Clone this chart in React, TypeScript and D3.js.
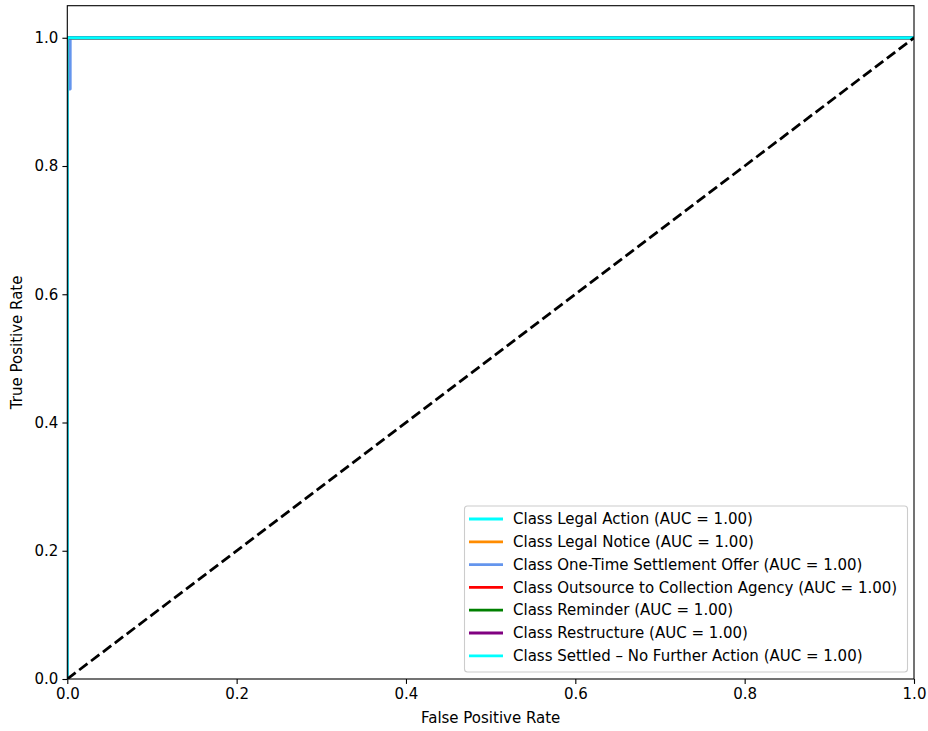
import React, { useEffect, useRef } from 'react';
import * as d3 from 'd3';

// classes in legend order
const classes = [
  'Legal Action',
  'Legal Notice',
  'One-Time Settlement Offer',
  'Outsource to Collection Agency',
  'Reminder',
  'Restructure',
  'Settled – No Further Action',
];
const colors = ['aqua', 'darkorange', 'cornflowerblue', 'red', 'green', 'purple', 'cyan'];
const aucs = [1.0, 1.0, 1.0, 1.0, 1.0, 1.0, 1.0];

// ROC points per class (fpr, tpr)
const fprs = [
  [0, 0, 1],
  [0, 0, 1],
  [0, 0, 0.0035, 0.0035, 1],
  [0, 0, 1],
  [0, 0, 1],
  [0, 0, 1],
  [0, 0, 1],
];
const tprs = [
  [0, 1, 1],
  [0, 1, 1],
  [0, 0.92, 0.92, 1, 1],
  [0, 1, 1],
  [0, 1, 1],
  [0, 1, 1],
  [0, 1, 1],
];

const xTicks = [0, 0.2, 0.4, 0.6, 0.8, 1.0];
const yTicks = [0, 0.2, 0.4, 0.6, 0.8, 1.0];

const App = () => {
  const svgRef = useRef<SVGSVGElement>(null);

  useEffect(() => {
    const width = 928;
    const height = 731;
    const margin = { left: 67.3, right: 14, top: 5.7, bottom: 52 };
    const font = 'DejaVu Sans, sans-serif';
    const fs = 15;

    const svg = d3.select(svgRef.current)
      .attr('width', width)
      .attr('height', height);
    svg.selectAll('*').remove();

    const x = d3.scaleLinear().domain([0, 1]).range([margin.left, width - margin.right]);
    const y = d3.scaleLinear().domain([0, 1.05]).range([height - margin.bottom, margin.top]);

    svg.append('rect')
      .attr('width', width)
      .attr('height', height)
      .attr('fill', 'white');

    svg.append('clipPath').attr('id', 'plot-clip')
      .append('rect')
      .attr('x', x(0))
      .attr('y', y(1.05))
      .attr('width', x(1) - x(0))
      .attr('height', y(0) - y(1.05));

    const plot = svg.append('g').attr('clip-path', 'url(#plot-clip)');

    const line = d3.line<[number, number]>()
      .x(d => x(d[0]))
      .y(d => y(d[1]));

    classes.forEach((c, i) => {
      const pts = fprs[i].map((f, j) => [f, tprs[i][j]] as [number, number]);
      plot.append('path')
        .attr('d', line(pts))
        .attr('fill', 'none')
        .attr('stroke', colors[i])
        .attr('stroke-width', 2.8)
        .attr('stroke-linejoin', 'round')
        .attr('stroke-linecap', 'butt');
    });

    // diagonal
    plot.append('path')
      .attr('d', line([[0, 0], [1, 1]]))
      .attr('fill', 'none')
      .attr('stroke', 'black')
      .attr('stroke-width', 2.8)
      .attr('stroke-dasharray', '10.4,4.5');

    // axes
    const xAxis = svg.append('g')
      .attr('transform', `translate(0, ${y(0)})`)
      .call(d3.axisBottom(x).tickValues(xTicks).tickFormat(d3.format('.1f')).tickSizeOuter(0).tickSize(4.9).tickPadding(4));
    const yAxis = svg.append('g')
      .attr('transform', `translate(${x(0)}, 0)`)
      .call(d3.axisLeft(y).tickValues(yTicks).tickFormat(d3.format('.1f')).tickSizeOuter(0).tickSize(4.9).tickPadding(4));
    [xAxis, yAxis].forEach(a => {
      a.select('.domain').remove();
      a.selectAll('text').attr('font-family', font).attr('font-size', fs).attr('fill', 'black');
      a.selectAll('line').attr('stroke', 'black').attr('stroke-width', 1.1);
    });

    // frame
    svg.append('rect')
      .attr('x', x(0))
      .attr('y', y(1.05))
      .attr('width', x(1) - x(0))
      .attr('height', y(0) - y(1.05))
      .attr('fill', 'none')
      .attr('stroke', 'black')
      .attr('stroke-width', 1.1);

    svg.append('text')
      .attr('x', (x(0) + x(1)) / 2)
      .attr('y', 723)
      .attr('text-anchor', 'middle')
      .attr('font-family', font)
      .attr('font-size', fs)
      .text('False Positive Rate');

    svg.append('text')
      .attr('transform', `translate(22, ${(y(0) + y(1.05)) / 2}) rotate(-90)`)
      .attr('text-anchor', 'middle')
      .attr('font-family', font)
      .attr('font-size', fs)
      .text('True Positive Rate');

    // legend
    const lg = svg.append('g');
    lg.append('rect')
      .attr('x', 464.5)
      .attr('y', 506)
      .attr('width', 443)
      .attr('height', 166)
      .attr('rx', 3)
      .attr('fill', 'white')
      .attr('fill-opacity', 0.8)
      .attr('stroke', '#cccccc')
      .attr('stroke-width', 1.1);

    classes.forEach((c, i) => {
      const cy = 519 + i * 22.8;
      lg.append('line')
        .attr('x1', 469)
        .attr('x2', 503)
        .attr('y1', cy)
        .attr('y2', cy)
        .attr('stroke', colors[i])
        .attr('stroke-width', 2.8);
      lg.append('text')
        .attr('x', 513)
        .attr('y', cy)
        .attr('dy', '0.35em')
        .attr('font-family', font)
        .attr('font-size', fs)
        .text(`Class ${c} (AUC = ${aucs[i].toFixed(2)})`);
    });
  }, []);

  return <svg ref={svgRef} style={{ display: 'block', position: 'absolute', left: 0, top: 0 }}></svg>;
};

export default App;
